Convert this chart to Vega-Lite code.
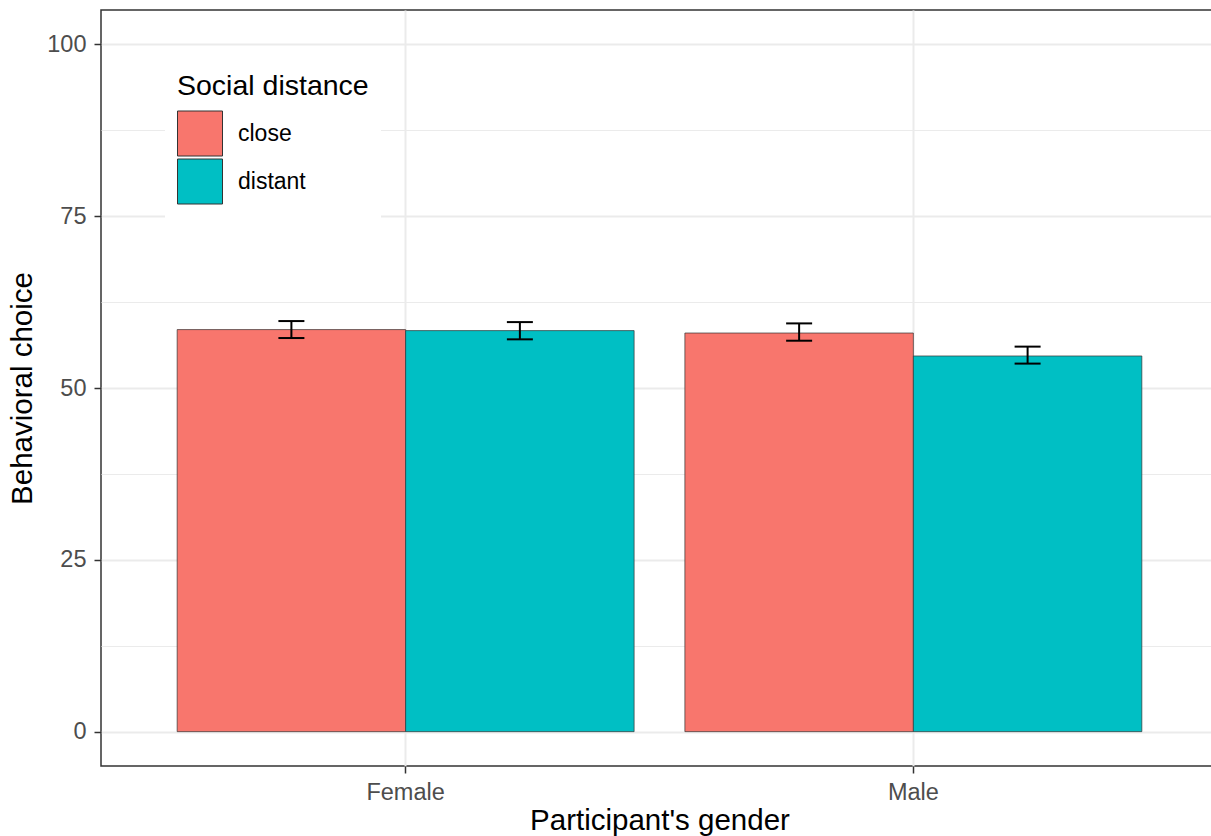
{
  "$schema": "https://vega.github.io/schema/vega-lite/v6.json",
  "autosize": {"type": "none"},
  "width": 1117,
  "height": 756,
  "padding": {"left": 101, "top": 10, "right": 0, "bottom": 70},
  "background": "white",
  "config": {
    "font": "Liberation Sans",
    "view": {"stroke": "#333333", "strokeWidth": 1.5},
    "axis": {
      "domain": false,
      "tickColor": "#333333",
      "tickSize": 7,
      "tickWidth": 1.5,
      "labelColor": "#4D4D4D",
      "labelFontSize": 23.5,
      "labelFont": "Liberation Sans",
      "titleFont": "Liberation Sans",
      "titleFontSize": 29.5,
      "titleFontWeight": "normal",
      "titleColor": "black",
      "gridColor": "#EBEBEB",
      "gridWidth": 2
    }
  },
  "data": {
    "values": [
      {"gender": "Female", "distance": "close", "mean": 58.5, "lo": 57.27, "hi": 59.74},
      {"gender": "Female", "distance": "distant", "mean": 58.35, "lo": 57.08, "hi": 59.59},
      {"gender": "Male", "distance": "close", "mean": 58.0, "lo": 56.88, "hi": 59.4},
      {"gender": "Male", "distance": "distant", "mean": 54.66, "lo": 53.55, "hi": 56.02}
    ]
  },
  "resolve": {"axis": {"y": "independent"}},
  "layer": [
    {
      "mark": {"type": "bar", "stroke": "#333333", "strokeWidth": 0.7},
      "encoding": {
        "x": {
          "field": "gender", "type": "nominal",
          "scale": {"paddingInner": 0.1, "paddingOuter": 0.15},
          "title": "Participant's gender",
          "axis": {"labelAngle": 0, "labelPadding": 7, "titlePadding": 3, "grid": true}
        },
        "xOffset": {"field": "distance", "type": "nominal", "scale": {"paddingInner": 0, "paddingOuter": 0}},
        "y": {
          "field": "mean", "type": "quantitative",
          "scale": {"domain": [-5, 105], "nice": false, "zero": false},
          "title": "Behavioral choice",
          "axis": {"values": [0, 25, 50, 75, 100], "labelPadding": 8, "titlePadding": 9, "grid": true, "orient": "left"}
        },
        "y2": {"datum": 0},
        "fill": {
          "field": "distance", "type": "nominal",
          "scale": {"domain": ["close", "distant"], "range": ["#F8766D", "#00BFC4"]},
          "legend": {
            "title": "Social distance",
            "orient": "none",
            "legendX": 64,
            "legendY": 50,
            "direction": "vertical",
            "padding": 12,
            "fillColor": "white",
            "titleFontSize": 28.5,
            "titleFontWeight": "normal",
            "titleColor": "black",
            "titlePadding": 10,
            "titleLimit": 500,
            "labelFontSize": 23,
            "labelColor": "black",
            "labelOffset": 15,
            "symbolType": "square",
            "symbolSize": 2025,
            "symbolStrokeColor": "#333333",
            "symbolStrokeWidth": 1,
            "symbolOpacity": 1,
            "rowPadding": -8
          }
        }
      }
    },
    {
      "mark": {"type": "rule", "strokeWidth": 2, "color": "black"},
      "encoding": {
        "x": {"field": "gender", "type": "nominal"},
        "xOffset": {"field": "distance", "type": "nominal"},
        "y": {
          "field": "lo", "type": "quantitative",
          "axis": {"orient": "right", "values": [12.5, 37.5, 62.5, 87.5], "labels": false, "ticks": false, "domain": false, "grid": true, "gridWidth": 1, "title": null}
        },
        "y2": {"field": "hi"}
      }
    },
    {
      "mark": {"type": "tick", "thickness": 2, "size": 26, "color": "black", "opacity": 1},
      "encoding": {
        "x": {"field": "gender", "type": "nominal"},
        "xOffset": {"field": "distance", "type": "nominal"},
        "y": {"field": "lo", "type": "quantitative", "axis": null}
      }
    },
    {
      "mark": {"type": "tick", "thickness": 2, "size": 26, "color": "black", "opacity": 1},
      "encoding": {
        "x": {"field": "gender", "type": "nominal"},
        "xOffset": {"field": "distance", "type": "nominal"},
        "y": {"field": "hi", "type": "quantitative", "axis": null}
      }
    }
  ]
}
